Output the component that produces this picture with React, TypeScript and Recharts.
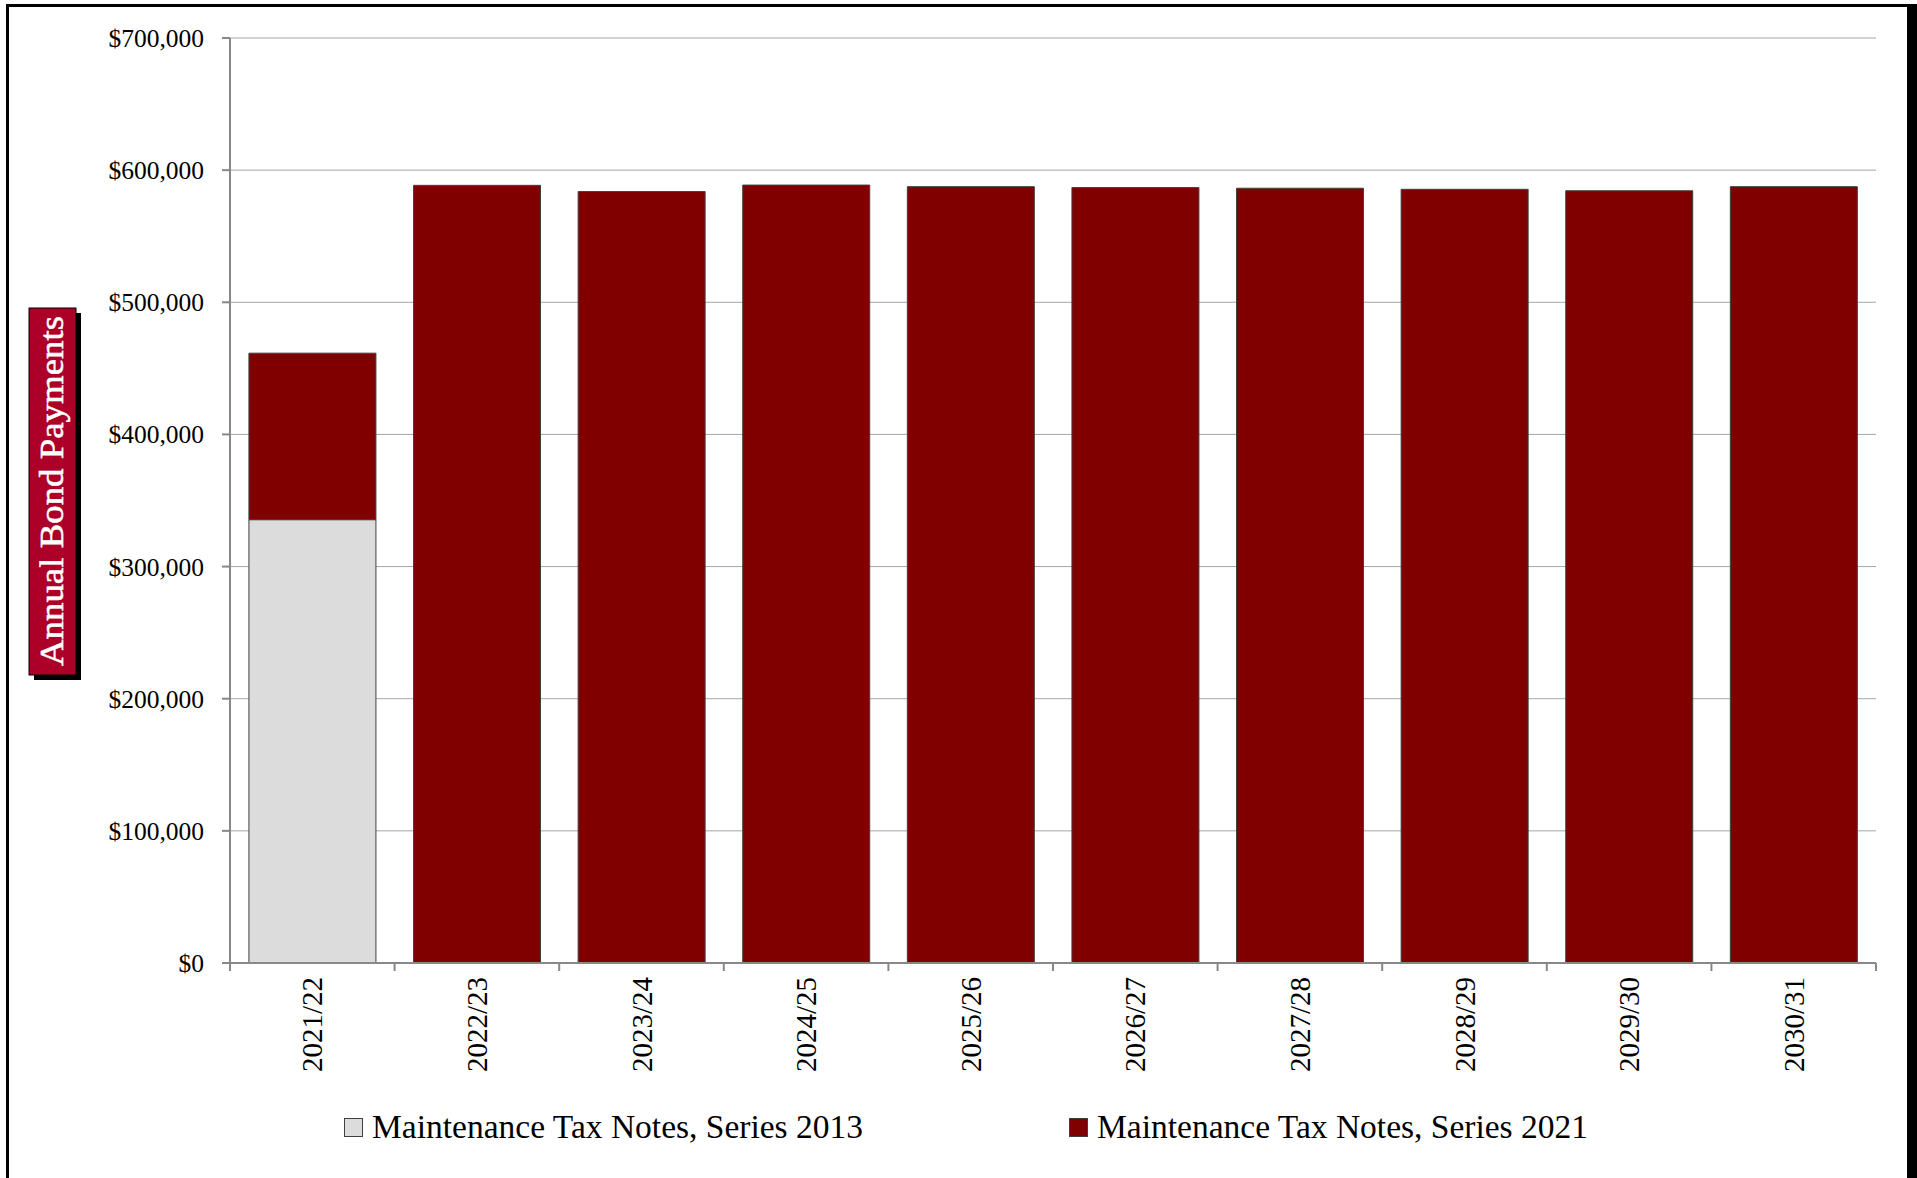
import { Bar, BarChart, CartesianGrid, Legend, XAxis, YAxis } from 'recharts'

const years = ['2021/22', '2022/23', '2023/24', '2024/25', '2025/26', '2026/27', '2027/28', '2028/29', '2029/30', '2030/31']
const series2013 = [335500, 0, 0, 0, 0, 0, 0, 0, 0, 0]
const series2021 = [126000, 588500, 583800, 588700, 587500, 586800, 586300, 585500, 584400, 587500]
const yTicks = [0, 100000, 200000, 300000, 400000, 500000, 600000, 700000]
const seriesNames = ['Maintenance Tax Notes, Series 2013', 'Maintenance Tax Notes, Series 2021']
const seriesColors = ['#dcdcdc', '#800000']

const data = years.map((year, i) => ({ year, s2013: series2013[i], s2021: series2021[i] }))

const WIDTH = 1917
const HEIGHT = 1178
const PLOT_LEFT = 230
const PLOT_RIGHT = 1876
const PLOT_TOP = 38
const PLOT_BOTTOM = 963
const X_AXIS_HEIGHT = 130
const BAND = (PLOT_RIGHT - PLOT_LEFT) / years.length
const FONT = '"Liberation Serif", "Times New Roman", serif'

const formatMoney = (v: number) => '$' + v.toLocaleString('en-US')

function YearTick(props: any) {
  const { x, y, payload, index } = props
  const half = BAND / 2
  return (
    <g>
      <line x1={x - half} y1={PLOT_BOTTOM} x2={x - half} y2={PLOT_BOTTOM + 8} stroke="#888" strokeWidth={2} />
      {index === years.length - 1 && (
        <line x1={x + half} y1={PLOT_BOTTOM} x2={x + half} y2={PLOT_BOTTOM + 8} stroke="#888" strokeWidth={2} />
      )}
      <text
        transform={`translate(${x},${y}) rotate(-90)`}
        textAnchor="end"
        dy="0.35em"
        fontSize={29}
        fontFamily={FONT}
        fill="#000"
      >
        {payload.value}
      </text>
    </g>
  )
}

function AxisTitle() {
  // boxed, rotated title with a drop shadow like the original
  return (
    <g>
      <rect x={34} y={313} width={47} height={367} fill="#000" />
      <rect x={29} y={308} width={47} height={367} fill="#ad0028" stroke="#000" strokeWidth={1} />
      <text
        transform="translate(63,491) rotate(-90)"
        textAnchor="middle"
        fontSize={33}
        fontFamily={FONT}
        fill="#fff"
        stroke="#fff"
        strokeWidth={0.5}
        textLength={350}
        lengthAdjust="spacingAndGlyphs"
      >
        Annual Bond Payments
      </text>
    </g>
  )
}

function LegendContent() {
  return (
    <div style={{ display: 'flex', alignItems: 'center', height: 46, paddingLeft: 344, fontFamily: FONT }}>
      {seriesNames.map((name, i) => (
        <div key={name} style={{ display: 'flex', alignItems: 'center', width: i === 0 ? 725 : 'auto' }}>
          <span
            style={{
              display: 'inline-block',
              width: 17,
              height: 17,
              background: seriesColors[i],
              border: '1px solid #404040',
              marginRight: 9,
            }}
          />
          <span style={{ fontSize: 33.5, lineHeight: 1, color: '#000' }}>{name}</span>
        </div>
      ))}
    </div>
  )
}

export default function App() {
  return (
    <div style={{ position: 'absolute', left: 0, top: 0, width: WIDTH, height: HEIGHT, overflow: 'hidden', background: '#fff' }}>
      <div
        style={{
          position: 'absolute',
          left: 6,
          top: 4,
          width: WIDTH - 6,
          height: HEIGHT + 50,
          boxSizing: 'border-box',
          borderLeft: '3px solid #000',
          borderTop: '3px solid #000',
          borderRight: '10px solid #000',
        }}
      />
      <BarChart
        width={WIDTH}
        height={HEIGHT}
        data={data}
        margin={{ top: PLOT_TOP, right: WIDTH - PLOT_RIGHT, left: 0, bottom: HEIGHT - PLOT_BOTTOM - X_AXIS_HEIGHT }}
        barCategoryGap="11.5%"
        style={{ position: 'absolute', left: 0, top: 0 }}
      >
        <CartesianGrid stroke="#a6a6a6" vertical={false} />
        <XAxis
          dataKey="year"
          height={X_AXIS_HEIGHT}
          axisLine={{ stroke: '#888', strokeWidth: 2 }}
          tickLine={false}
          tickSize={8}
          tickMargin={6}
          tick={<YearTick />}
          interval={0}
        />
        <YAxis
          width={PLOT_LEFT}
          domain={[0, 700000]}
          ticks={yTicks}
          tickFormatter={formatMoney}
          axisLine={{ stroke: '#888', strokeWidth: 2 }}
          tickLine={{ stroke: '#888', strokeWidth: 2 }}
          tickSize={8}
          tickMargin={18}
          tick={{ fill: '#000', fontSize: 25.5, fontFamily: FONT }}
          label={<AxisTitle />}
        />
        <YAxis
          yAxisId="right"
          orientation="right"
          width={0}
          domain={[0, 700000]}
          tick={false}
          tickLine={false}
          axisLine={{ stroke: '#a6a6a6' }}
        />
        <Legend
          verticalAlign="middle"
          align="center"
          layout="horizontal"
          wrapperStyle={{ top: 1104, left: 0, width: WIDTH, height: 46 }}
          content={<LegendContent />}
        />
        <Bar dataKey="s2013" name={seriesNames[0]} stackId="a" fill={seriesColors[0]} stroke="#404040" strokeWidth={1} isAnimationActive={false} />
        <Bar dataKey="s2021" name={seriesNames[1]} stackId="a" fill={seriesColors[1]} stroke="#404040" strokeWidth={1} isAnimationActive={false} />
      </BarChart>
    </div>
  )
}
